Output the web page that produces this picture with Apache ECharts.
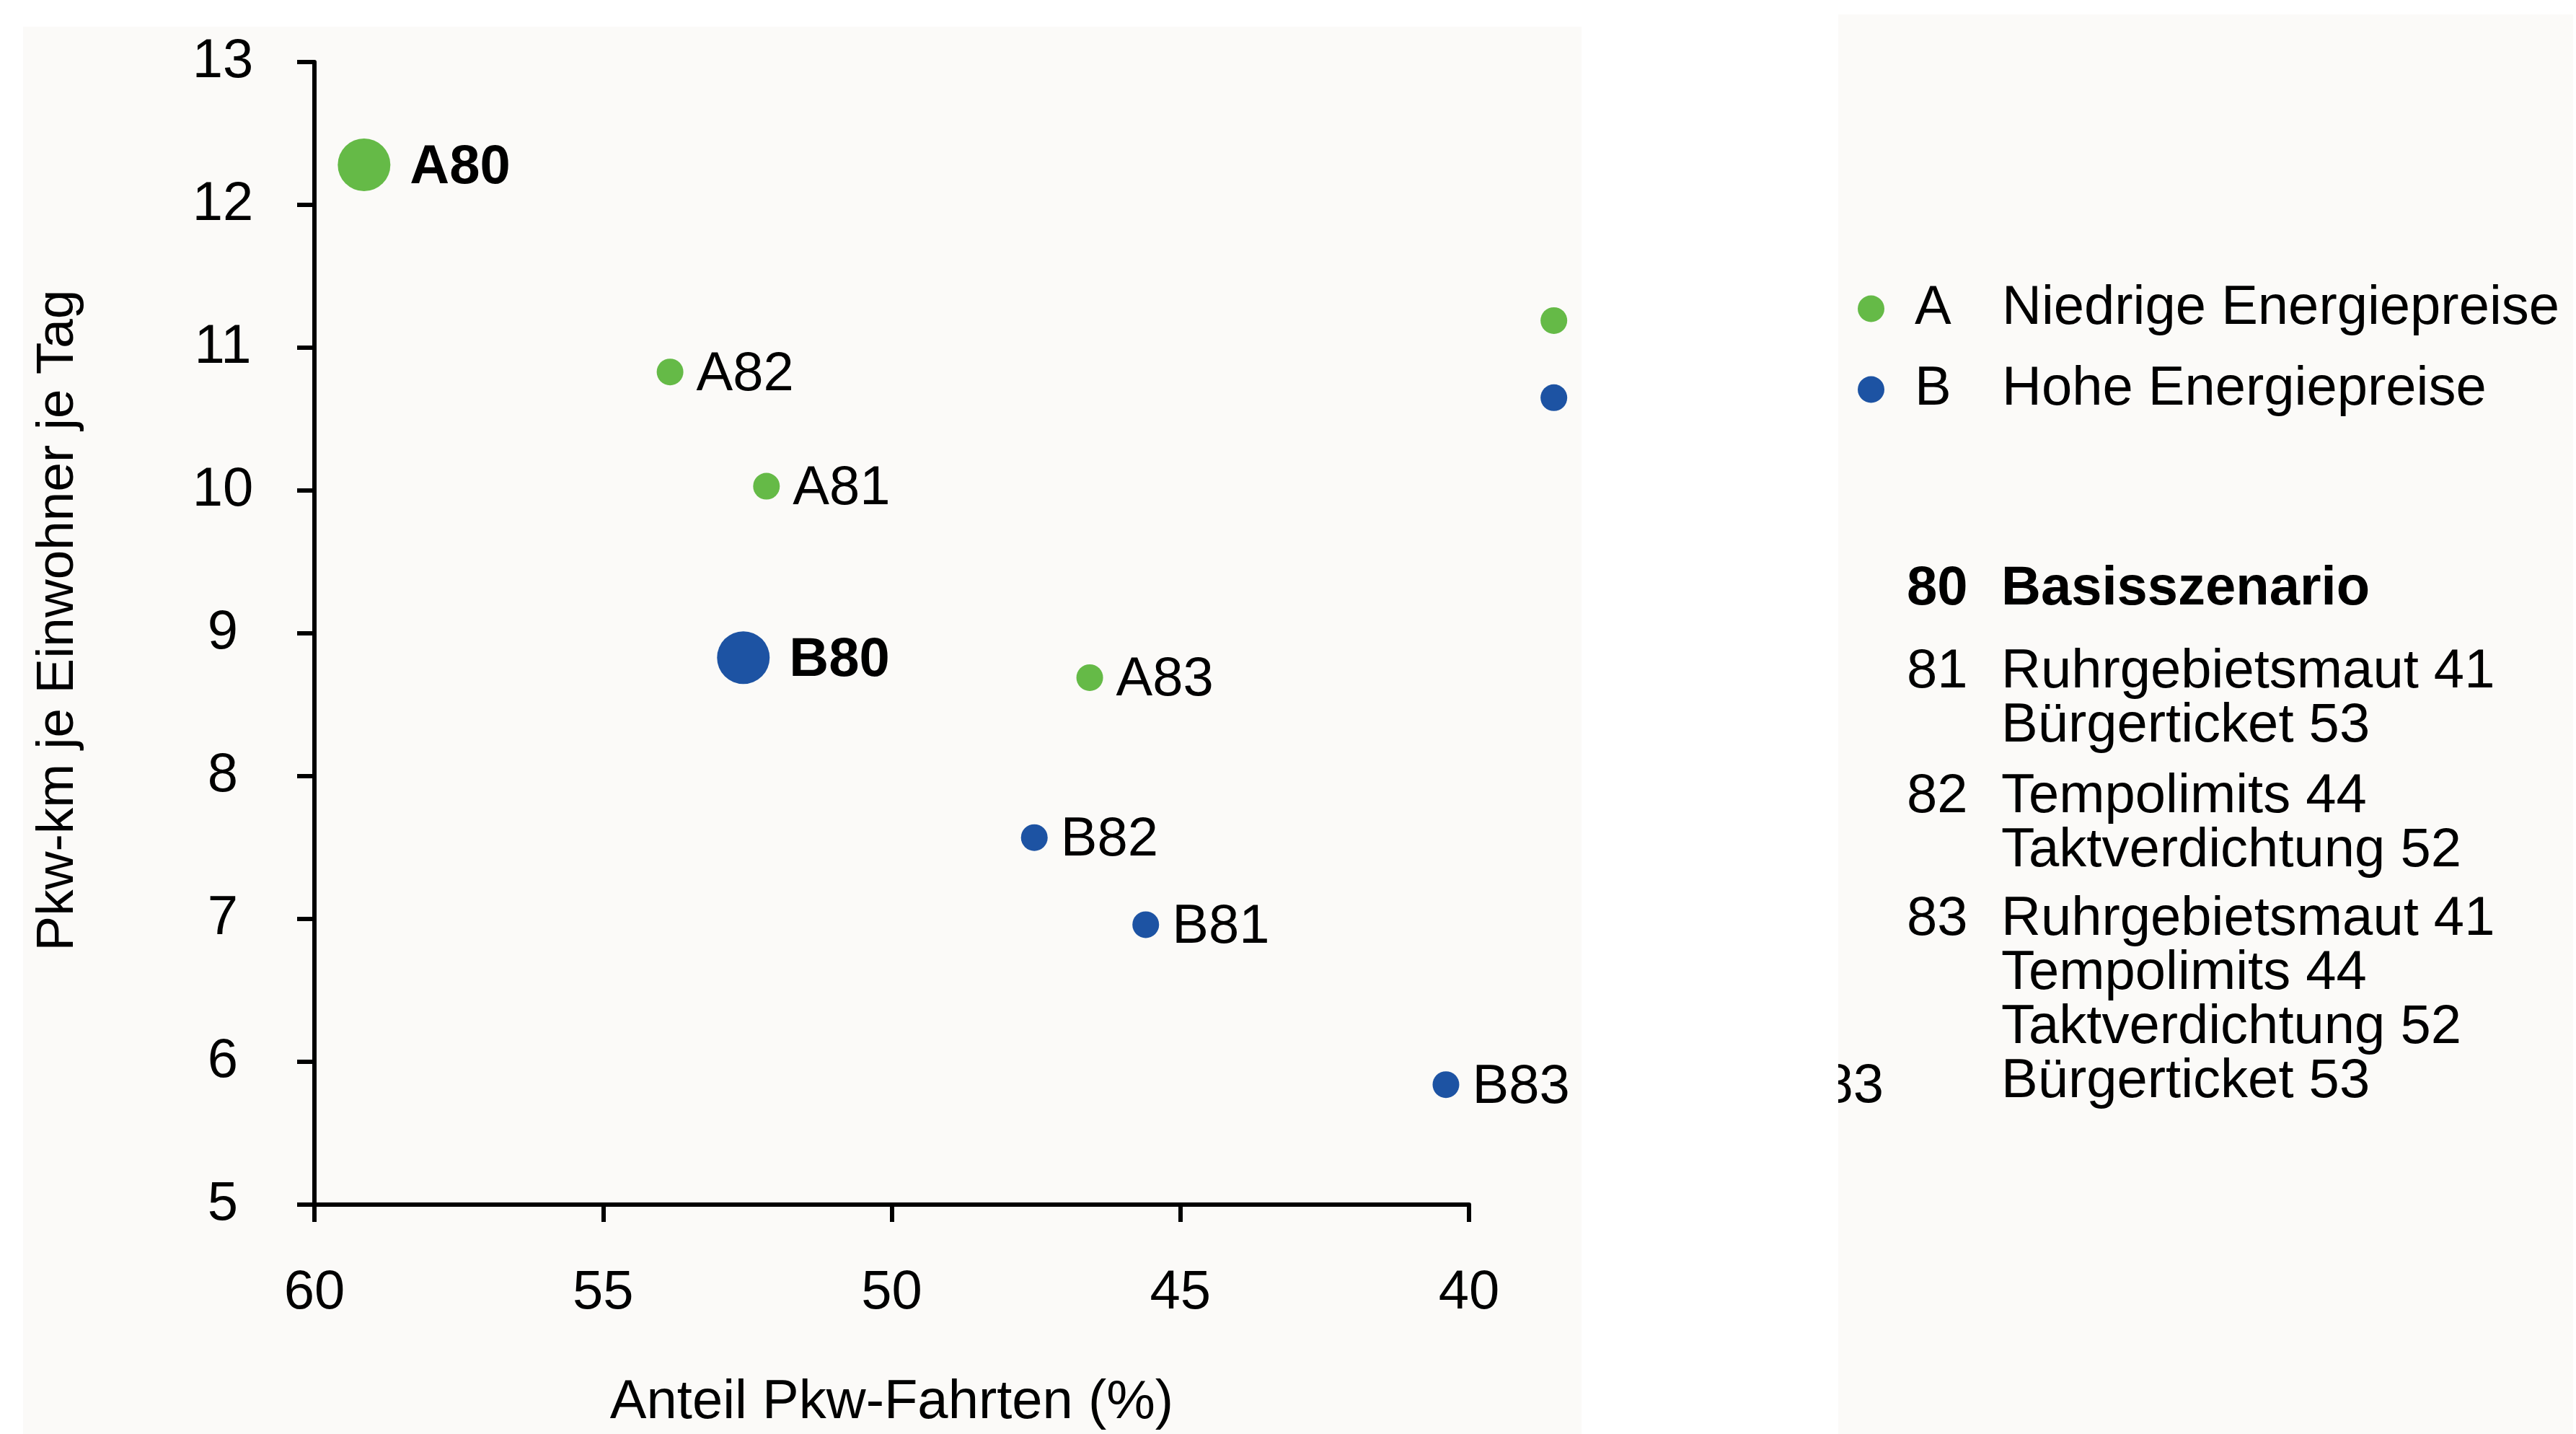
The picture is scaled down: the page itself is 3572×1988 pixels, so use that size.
<!DOCTYPE html>
<html>
<head>
<meta charset="utf-8">
<script src="https://cdn.jsdelivr.net/npm/echarts@6/dist/echarts.min.js"></script>
<style>
  html, body { margin: 0; padding: 0; background: #ffffff; }
  #chart { width: 3572px; height: 1988px; }
</style>
</head>
<body>
<div id="chart"></div>
<script>
// ---------------- data ----------------
const scenariosA = ['A80', 'A81', 'A82', 'A83'];
const pkwShareA = [59.14, 52.17, 53.84, 46.57];     // Anteil Pkw-Fahrten (%)
const pkwKmA = [12.28, 10.03, 10.83, 8.69];          // Pkw-km je Einwohner je Tag

const scenariosB = ['B80', 'B81', 'B82', 'B83'];
const pkwShareB = [52.57, 45.60, 47.53, 40.40];
const pkwKmB = [8.83, 6.96, 7.57, 5.84];

// the two key markers at the right edge of the plot
const keyMarkerShare = [38.53];
const keyMarkerKmA = [11.19];
const keyMarkerKmB = [10.65];

const xTicks = [40, 45, 50, 55, 60];
const yTicks = [5, 6, 7, 8, 9, 10, 11, 12, 13];

const seriesDescriptions = { A: 'Niedrige Energiepreise', B: 'Hohe Energiepreise' };
const scenarioCodes = ['80', '81', '82', '83'];
const scenarioTexts = [
  ['Basisszenario'],
  ['Ruhrgebietsmaut 41', 'Bürgerticket 53'],
  ['Tempolimits 44', 'Taktverdichtung 52'],
  ['Ruhrgebietsmaut 41', 'Tempolimits 44', 'Taktverdichtung 52', 'Bürgerticket 53']
];
const xAxisTitle = 'Anteil Pkw-Fahrten (%)';
const yAxisTitle = 'Pkw-km je Einwohner je Tag';

// ---------------- styling ----------------
const FONT = '"Liberation Sans", Arial, Helvetica, sans-serif';
const FS = 76;
const GREEN = '#65BA47';
const BLUE = '#1D53A3';

function buildPoints(names, xs, ys, keyXs, keyYs) {
  const pts = names.map((n, i) => {
    const isBase = n.endsWith('80');
    return {
      name: n,
      value: [xs[i], ys[i]],
      symbolSize: isBase ? 73 : 37,
      label: {
        show: true,
        position: 'right',
        distance: isBase ? 27 : 18,
        offset: [0, 4],
        formatter: n,
        fontSize: FS,
        fontWeight: isBase ? 'bold' : 'normal',
        fontFamily: FONT,
        color: '#000'
      }
    };
  });
  keyXs.forEach((x, i) => {
    pts.push({ name: '', value: [x, keyYs[i]], symbolSize: 37, label: { show: false } });
  });
  return pts;
}

// background panels and scenario key texts
const graphics = [
  { type: 'rect', silent: true, z: -10, shape: { x: 32, y: 37, width: 2161, height: 1951 }, style: { fill: '#FBFAF8' } },
  { type: 'rect', silent: true, z: -10, shape: { x: 2549, y: 20, width: 1019, height: 1968 }, style: { fill: '#FBFAF8' } },
  { type: 'text', silent: true, z: 5, x: 2612, y: 1507,
    style: { text: '83', font: `${FS}px ${FONT}`, fill: '#000', align: 'right', verticalAlign: 'middle' } },
  { type: 'rect', silent: true, z: 6, shape: { x: 2440, y: 1440, width: 109, height: 130 }, style: { fill: '#ffffff' } }
];
const rowStarts = [817, 932, 1105, 1275];
const lineStep = 75;
scenarioCodes.forEach((code, i) => {
  const bold = i === 0;
  const font = `${bold ? 'bold ' : ''}${FS}px ${FONT}`;
  graphics.push({ type: 'text', silent: true, z: 5, x: 2644, y: rowStarts[i],
    style: { text: code, font, fill: '#000', align: 'left', verticalAlign: 'middle' } });
  scenarioTexts[i].forEach((t, j) => {
    graphics.push({ type: 'text', silent: true, z: 5, x: 2775, y: rowStarts[i] + j * lineStep,
      style: { text: t, font, fill: '#000', align: 'left', verticalAlign: 'middle' } });
  });
});

const chart = echarts.init(document.getElementById('chart'), null, { renderer: 'canvas' });
chart.setOption({
  animation: false,
  backgroundColor: '#ffffff',
  grid: { left: 436, top: 86, width: 1601, height: 1601, containLabel: false },
  xAxis: {
    type: 'value',
    inverse: true,
    min: xTicks[0],
    max: xTicks[xTicks.length - 1],
    interval: 5,
    name: xAxisTitle,
    nameLocation: 'middle',
    nameGap: 275,
    nameTextStyle: { fontSize: 76, fontFamily: FONT, color: '#000', verticalAlign: 'middle' },
    axisLine: { show: true, onZero: false, lineStyle: { color: '#000', width: 6 } },
    axisTick: { show: true, length: 24, lineStyle: { color: '#000', width: 6 } },
    axisLabel: { show: true, margin: 85, fontSize: FS, fontFamily: FONT, color: '#000' },
    splitLine: { show: false }
  },
  yAxis: {
    type: 'value',
    min: yTicks[0],
    max: yTicks[yTicks.length - 1],
    interval: 1,
    name: yAxisTitle,
    nameLocation: 'middle',
    nameGap: 355,
    nameTextStyle: { fontSize: 73, fontFamily: FONT, color: '#000', verticalAlign: 'middle', padding: [0, 0, 0, 36] },
    axisLine: { show: true, onZero: false, lineStyle: { color: '#000', width: 6 } },
    axisTick: { show: true, length: 24, lineStyle: { color: '#000', width: 6 } },
    axisLabel: { show: true, margin: 127, align: 'center', padding: [10, 0, 0, 0], fontSize: FS, fontFamily: FONT, color: '#000' },
    splitLine: { show: false }
  },
  legend: {
    data: ['A', 'B'],
    orient: 'vertical',
    left: 2576,
    top: 390,
    padding: 0,
    itemWidth: 37,
    itemHeight: 37,
    itemGap: 36,
    icon: 'circle',
    selectedMode: false,
    formatter: (name) => `{code|${name}}{desc|${seriesDescriptions[name]}}`,
    textStyle: {
      fontSize: FS, fontFamily: FONT, color: '#000',
      rich: {
        code: { fontSize: FS, fontFamily: FONT, color: '#000', width: 121, padding: [0, 0, 0, 37] },
        desc: { fontSize: FS, fontFamily: FONT, color: '#000' }
      }
    }
  },
  graphic: graphics,
  series: [
    {
      name: 'A',
      type: 'scatter',
      clip: false,
      symbol: 'circle',
      itemStyle: { color: GREEN, opacity: 1 },
      data: buildPoints(scenariosA, pkwShareA, pkwKmA, keyMarkerShare, keyMarkerKmA)
    },
    {
      name: 'B',
      type: 'scatter',
      clip: false,
      symbol: 'circle',
      itemStyle: { color: BLUE, opacity: 1 },
      data: buildPoints(scenariosB, pkwShareB, pkwKmB, keyMarkerShare, keyMarkerKmB)
    }
  ]
});
</script>
</body>
</html>
